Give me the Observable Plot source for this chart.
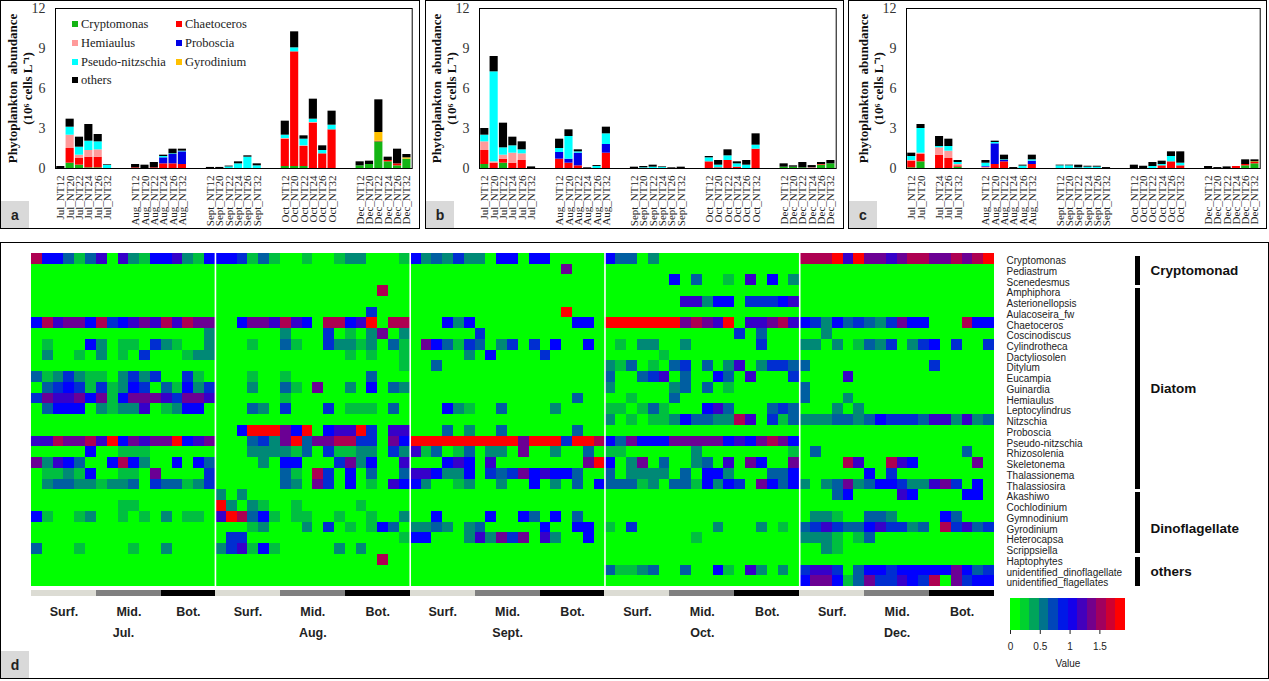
<!DOCTYPE html>
<html><head><meta charset="utf-8">
<script src="https://cdn.jsdelivr.net/npm/d3@7"></script>
<script src="https://cdn.jsdelivr.net/npm/@observablehq/plot@0.6"></script>
<style>
html,body{margin:0;padding:0;background:#fff;width:1269px;height:681px;overflow:hidden}
#stage{position:relative;width:1269px;height:681px}
.abs{position:absolute}
.panel{position:absolute;border:1.5px solid #000;box-sizing:border-box}
.tag{position:absolute;background:#d9d9d9;font:bold 14px "Liberation Sans";color:#222;display:flex;align-items:center;justify-content:center;width:28px;height:27px}
.lg{position:absolute;font:12.5px "Liberation Serif";color:#222;white-space:nowrap;line-height:14px}
.lg i{display:inline-block;width:6px;height:6px;margin-right:3px;vertical-align:1px}
svg{background:transparent!important}
</style></head><body><div id="stage"></div>
<script>
// ---- stacked bars ----
const species = ["Cryptomonas","Chaetoceros","Hemiaulus","Proboscia","Pseudo-nitzschia","Gyrodinium","others"];
const speciesColors = ["#14b414","#ff0000","#ff9a9a","#0000e6","#00ffff","#ffc000","#000000"];
const months = ["Jul","Aug","Sept","Oct","Dec"];
const stations = ["NT12","NT20","NT22","NT24","NT26","NT32"];
const yTicks = [0,3,6,9,12];

const aCryptomonas = [0,.4,.25,.05,.05,0, 0,0,0,0,0,0, 0,0,0,0,0,0, .15,.15,.15,0,0,0, .2,.3,2,.5,.2,.7];
const aChaetoceros = [0,1.1,.5,.8,.8,0, .05,0,.05,.35,.35,.3, 0,0,0,0,0,0, 2.05,8.6,1.5,3.4,1.1,2.9, 0,0,.05,.1,.15,0];
const aHemiaulus = [0,1,.25,.5,.55,0, 0,0,0,0,0,0, 0,0,0,0,0,0, .05,0,.05,.05,0,0, 0,0,0,0,0,0];
const aProboscia = [0,0,0,0,0,0, 0,0,0,.45,.7,.95, 0,0,0,0,0,0, 0,0,0,0,0,0, 0,0,0,0,0,0];
const aPseudo = [0,.6,.6,.7,.6,.23, 0,0,0,.1,.05,.05, 0,0,.12,.35,.85,.2, .25,.3,.5,.25,.25,.35, 0,0,0,0,0,0];
const aGyrodinium = [0,0,0,0,0,0, 0,0,0,0,0,0, 0,0,0,0,0,0, 0,0,0,0,0,0, 0,0,.65,0,0,.1];
const aOthers = [.15,.6,.75,1.25,.55,.05, .25,.25,.4,.1,.35,.15, .08,.08,.06,.15,.1,.15, 1.05,1.2,.25,1.5,.35,1.05, .3,.25,2.45,.25,1.1,.25];

const bCryptomonas = [.3,0,.4,0,0,0, 0,0,0,0,0,0, 0,0,0,0,0,0, 0,0,0,0,0,0, .1,.1,.05,0,.25,.35];
const bChaetoceros = [1.05,.4,.3,.4,.6,0, .7,.4,.2,0,0,1.15, 0,0,0,0,0,0, .5,.05,.6,.1,0,1.45, 0,0,0,0,.05,0];
const bHemiaulus = [.65,.1,.3,.75,.5,0, 0,0,0,0,0,0, 0,0,0,0,0,0, 0,0,0,0,0,0, 0,0,0,.05,0,0];
const bProboscia = [0,0,0,0,0,0, .5,.3,.95,0,0,.65, 0,0,0,0,0,0, 0,0,0,0,0,0, 0,0,0,0,0,0];
const bPseudo = [.5,6.75,.55,.55,.3,0, .3,1.7,.1,0,.15,.8, 0,.05,.1,.07,0,0, .3,.2,.35,.25,.25,.3, 0,0,0,0,0,0];
const bGyrodinium = [0,0,0,0,0,0, 0,0,0,0,0,0, 0,0,0,0,0,0, 0,0,0,0,0,0, 0,0,0,0,0,0];
const bOthers = [.5,1.15,1.85,.65,.6,.12, .7,.5,.15,.05,.07,.5, .1,.1,.15,.05,.05,.1, .1,.35,.45,.15,.35,.85, .25,.1,.4,.17,.15,.25];

const cCryptomonas = [.05,.5,0,0,0,.1, 0,0,0,0,0,0, 0,0,0,0,0,0, 0,0,0,0,0,0, 0,0,0,0,.2,.35];
const cChaetoceros = [.5,.55,0,1,.75,.1, 0,.3,.5,0,0,.3, 0,0,0,0,0,0, 0,0,0,.2,.5,.2, 0,0,0,.15,.1,.1];
const cHemiaulus = [.05,.1,0,.55,.55,.1, .1,0,0,0,0,0, 0,0,0,0,0,0, 0,0,0,0,0,0, 0,0,0,0,0,0];
const cProboscia = [0,0,0,0,0,0, .05,1.55,.1,0,0,.25, 0,0,0,0,0,0, 0,0,0,0,0,0, 0,0,0,0,0,0];
const cPseudo = [.3,1.85,0,.1,.35,.15, .25,.1,.05,0,.18,.1, .2,.2,.05,.1,.1,0, 0,0,.15,.1,.4,.2, 0,0,0,0,0,0];
const cGyrodinium = [0,0,0,0,0,0, 0,0,0,0,0,0, 0,0,0,0,0,0, 0,0,0,0,0,0, 0,0,0,0,0,.05];
const cOthers = [.25,.3,0,.75,.55,.15, .2,.1,.35,.07,.07,.35, .05,.05,.2,.07,.07,.07, .25,.17,.3,.25,.35,.85, .15,.07,.12,0,.35,.15];

// ---- heatmap: one digit per sample, Jul has 17 samples, the other months 18; digit indexes heatLevels ----
const heatLevels = [0,.24,.44,.6,.78,.95,1.15,1.35,1.6,1.9];
const J0 = "00000000000000000", M0 = "000000000000000000";
const hCryptomonas = ["85531360621556215","554131001001220001","523242205505500000","533020000000000000","888969776788778789"];
const hPediastrum = [J0,M0,"000000000000007000",M0,M0];
const hScenedesmus = [J0,M0,M0,"000000503001060502",M0];
const hAmphiphora = [J0,"000000000000000800",M0,M0,M0];
const hAsterionellopsis = [J0,M0,M0,"000000066255044456",M0];
const hAulacoseira = [J0,"000000000000004000","000000000000009000",M0,M0];
const hChaetoceros = ["58677584567686877","005776865088569088","000525000000000550","999999978769066786","542534324755000855"];
const hCoscinodiscus = ["00000000000000002","000000200040102702","000000400000000000","000000000000403000","002000000000000000"];
const hCylindrotheca = ["01000520110421002","000100310042212031","075314302404050050","010220020000004000","220201324024504004"];
const hDactyliosolen = ["02001020104000122","000000000000101001","000002050000400000","000001000000000000",M0];
const hDitylum = [J0,"000000000000000001","003000000000000000","213010340302602443","300000000000400000"];
const hEucampia = ["31242110242400410","000100100000003000",M0,"300346030053060004","000060000000000000"];
const hGuinardia = ["03454141254031524","000200310700205032",M0,"200000230301000000","300000000000000000"];
const hHemiaulus = ["47667571577764776","000000100000000000","000000000000000300","001000300000000000","300020000000000000"];
const hLeptocylindrus = ["03555021226012550","000320400040111030","000521003000020000","110131000563000343","000202000000000000"];
const hNitzschia = [J0,M0,M0,"201011253322860413","222332354443662623"];
const hProboscia = [J0,"005999759056694066","000302003000000300",M0,M0];
const hPseudoNitzschia = ["66877869576779567","000342793778844075","999999999979994998","537555777775657875",M0];
const hRhizosolenia = ["00000500111000000","000222213041122042","613013022070020030","110000002000000001","030000000000000300"];
const hSkeletonema = ["72653005852005053","000020550004725006","000565060000000079","502703002306075007","000086008650000070"];
const hThalassionema = ["01121500110700004","000000310840503003","665225043475655300","302222030552000335","000000504000000000"];
const hThalassiosira = ["02332212230433124","000000320740501065","520012002005020305","333120331525407535","202372355422674050"];
const hAkashiwo = [J0,"202000000000000000",M0,M0,"000350000650000550"];
const hCochlodinium = ["00000000110000000","920210010000010000",M0,M0,M0];
const hGymnodinium = ["51001200101020110","698351011001001002","005000050053050300",M0,"022100332000053000"];
const hGyrodinium = [J0,"000120002040101530","223202300000500550","104000000020002010","346433564423084634"];
const hHeterocapsa = [J0,"044000000000000001","550002627470620050","000000001000000000","222101300000000000"];
const hScrippsiella = ["30001000010020000","246151000002020000",M0,M0,"002100000000000000"];
const hHaptophytes = [J0,"000000000000000800",M0,M0,M0];
const hUnidDino = [J0,M0,M0,"311230030051062020","466403554555557534"];
const hUnidFlag = [J0,M0,M0,M0,"577513744654807455"];

const heatRows = [
 ["Cryptomonas",hCryptomonas],["Pediastrum",hPediastrum],["Scenedesmus",hScenedesmus],["Amphiphora",hAmphiphora],
 ["Asterionellopsis",hAsterionellopsis],["Aulacoseira_fw",hAulacoseira],["Chaetoceros",hChaetoceros],["Coscinodiscus",hCoscinodiscus],
 ["Cylindrotheca",hCylindrotheca],["Dactyliosolen",hDactyliosolen],["Ditylum",hDitylum],["Eucampia",hEucampia],["Guinardia",hGuinardia],
 ["Hemiaulus",hHemiaulus],["Leptocylindrus",hLeptocylindrus],["Nitzschia",hNitzschia],["Proboscia",hProboscia],["Pseudo-nitzschia",hPseudoNitzschia],
 ["Rhizosolenia",hRhizosolenia],["Skeletonema",hSkeletonema],["Thalassionema",hThalassionema],["Thalassiosira",hThalassiosira],
 ["Akashiwo",hAkashiwo],["Cochlodinium",hCochlodinium],["Gymnodinium",hGymnodinium],["Gyrodinium",hGyrodinium],["Heterocapsa",hHeterocapsa],
 ["Scrippsiella",hScrippsiella],["Haptophytes",hHaptophytes],["unidentified_dinoflagellate",hUnidDino],["unidentified_flagellates",hUnidFlag]];
const rowNames = heatRows.map(r=>r[0]);
const lastRow = rowNames[rowNames.length-1];
const monthLabels = ["Jul.","Aug.","Sept.","Oct.","Dec."];
const monthCounts = [17,18,18,18,18];
const depthLabels = ["Surf.","Mid.","Bot."];
const depthColors = ["#dcdcd4","#808080","#000000"];
const groups = [
 {name:"Cryptomonad",first:"Cryptomonas",last:"Scenedesmus",mid:"Pediastrum"},
 {name:"Diatom",first:"Amphiphora",last:"Thalassiosira",mid:"Guinardia"},
 {name:"Dinoflagellate",first:"Akashiwo",last:"Scrippsiella",mid:"Gyrodinium"},
 {name:"others",first:"Haptophytes",last:"unidentified_flagellates",mid:"unidentified_dinoflagellate"}];
const legendLevels = [0,.17,.34,.52,.69,.86,1.03,1.2,1.38,1.55,1.72,1.9];
const legendMax = 1.93;

// ---- shared ----
const stage = document.getElementById("stage");
function box(cls,css,html){const d=document.createElement("div");d.className=cls;d.style.cssText=css;if(html)d.innerHTML=html;stage.appendChild(d);return d;}
function place(svg,left,top){svg.style.position="absolute";svg.style.left=left+"px";svg.style.top=top+"px";stage.appendChild(svg);}
const fullDomain = (skip=[])=>months.flatMap((m,i)=>[
  ...stations.map(s=>skip.includes(m+"_"+s)?"gap"+m+s:m+"_"+s),
  ...(i<months.length-1?["gap"+i+"a","gap"+i+"b"]:[])]);
const colorScale = {type:"linear",domain:[0,.95,1.9],range:["#00ff00","#0000ff","#ff0000"],interpolate:"rgb",clamp:true};

box("panel","left:0;top:0;width:420px;height:229px");
box("panel","left:425px;top:0;width:419px;height:229px");
box("panel","left:848px;top:0;width:419px;height:229px");
box("panel","left:0;top:242px;width:1269px;height:437px");
box("tag","left:1px;top:201px","a");
box("tag","left:426px;top:201px","b");
box("tag","left:849px;top:201px","c");
box("tag","left:1px;top:651px","d");

function barPanel(series,left,width,mLeft,mRight,skip){
  const rows=[];
  species.forEach((sp,si)=>{
    let k=0;
    months.forEach(m=>stations.forEach(s=>{rows.push({key:m+"_"+s,species:sp,value:series[si][k++]});}));
  });
  const data=rows.filter(d=>d.value>0);
  const svg=Plot.plot({
    width,height:228,marginLeft:mLeft,marginRight:mRight,marginTop:8,marginBottom:60,
    style:{fontFamily:"Liberation Serif",background:"transparent"},
    x:{domain:fullDomain(skip),padding:.13,round:false,axis:null},
    y:{domain:[0,12],axis:null},
    color:{domain:species,range:speciesColors},
    marks:[
      Plot.ruleY([0],{stroke:"#c8c8c8"}),
      Plot.barY(data,{x:"key",y:"value",fill:"species",order:species}),
      Plot.frame({stroke:"#000"}),
      Plot.axisY({ticks:yTicks,tickSize:0,tickPadding:10,fontSize:14,label:null,color:"#333"}),
      Plot.axisX({tickRotate:-90,tickSize:0,tickPadding:7,fontSize:11,label:null,color:"#222",tickFormat:d=>String(d).startsWith("gap")?"":d}),
      Plot.text(["Phytoplankton\u00a0\u00a0abundance\n(10⁶ cells L⁻¹)"],{frameAnchor:"left",textAnchor:"middle",dx:-36,rotate:-90,fontWeight:"bold",fontSize:13,lineHeight:1.15,fill:"#111"})
    ]});
  place(svg,left,0);
}
barPanel([aCryptomonas,aChaetoceros,aHemiaulus,aProboscia,aPseudo,aGyrodinium,aOthers],0,420,55,8.3,[]);
barPanel([bCryptomonas,bChaetoceros,bHemiaulus,bProboscia,bPseudo,bGyrodinium,bOthers],425,419,54,8.3,[]);
barPanel([cCryptomonas,cChaetoceros,cHemiaulus,cProboscia,cPseudo,cGyrodinium,cOthers],847,420,59,7.3,["Jul_NT22"]);

// legend of panel a
[[0,72,17],[1,176,17],[2,72,36],[3,176,36],[4,72,55],[5,176,55],[6,72,73]].forEach(([i,x,y])=>{
  box("lg",`left:${x}px;top:${y}px`,`<i style="background:${speciesColors[i]}"></i>${species[i]}`);
});

// ---- heatmap ----
const cells=[];let offset=0;const starts=[];
monthCounts.forEach((n,mi)=>{
  starts.push(offset);
  heatRows.forEach(([name,arr])=>{
    [...arr[mi]].forEach((c,i)=>cells.push({row:name,x1:offset+i,x2:offset+i+1,value:heatLevels[+c]}));
  });
  offset+=n;
});
const total=offset;
const strips=[],depthText=[],monthText=[];
monthCounts.forEach((n,mi)=>{
  const s=starts[mi];
  const parts=[[s,s+6],[s+6,s+12],[s+12,s+n]];
  parts.forEach(([a,b],di)=>{
    for(let i=a;i<b;i++) strips.push({x1:i,x2:i+1,depth:di});
    depthText.push({x:(a+b)/2,label:depthLabels[di]});
  });
  monthText.push({x:s+n/2,label:monthLabels[mi]});
});
const lastOfGroup=new Set(groups.map(g=>g.last));
const heat=Plot.plot({
  width:1269,height:436,marginLeft:31,marginRight:275,marginTop:11,marginBottom:92,
  style:{fontFamily:"Liberation Sans",background:"transparent"},
  x:{domain:[0,total],axis:null},
  y:{domain:rowNames,padding:0,round:false,axis:null},
  color:colorScale,
  marks:[
    Plot.barX(cells,{x1:"x1",x2:"x2",y:"row",fill:"value",shapeRendering:"crispEdges"}),
    Plot.ruleX(starts.slice(1),{stroke:"#fff",strokeWidth:1.6}),
    ...depthLabels.map((_,di)=>Plot.barX(strips.filter(d=>d.depth===di),{x1:"x1",x2:"x2",y:()=>lastRow,dy:9.5,insetTop:5.2,fill:depthColors[di],shapeRendering:"crispEdges"})),
    Plot.text(depthText,{x:"x",y:()=>lastRow,dy:30.5,text:"label",fontWeight:"bold",fontSize:12.5,fill:"#222"}),
    Plot.text(monthText,{x:"x",y:()=>lastRow,dy:51.5,text:"label",fontWeight:"bold",fontSize:12.5,fill:"#222"}),
    Plot.axisY({anchor:"right",tickSize:0,tickPadding:12,fontSize:10,dy:2,label:null,color:"#222"}),
    Plot.ruleX(rowNames.filter(r=>!lastOfGroup.has(r)),{x:()=>total,y1:d=>d,y2:d=>d,dx:143,dy:3,stroke:"#000",strokeWidth:5,shapeRendering:"crispEdges"}),
    Plot.ruleX(rowNames.filter(r=>lastOfGroup.has(r)),{x:()=>total,y1:d=>d,y2:d=>d,dx:143,dy:3,insetBottom:3.5,stroke:"#000",strokeWidth:5,shapeRendering:"crispEdges"}),
    Plot.text(groups,{x:()=>total,y:"mid",dx:156,dy:1,text:"name",textAnchor:"start",fontWeight:"bold",fontSize:13.5,fill:"#111"})
  ]});
place(heat,0,242);

// ---- colour key ----
const step=legendMax/legendLevels.length;
const key=Plot.plot({
  width:170,height:85,marginLeft:20,marginRight:35,marginTop:8,marginBottom:45,
  style:{fontFamily:"Liberation Sans",background:"transparent"},
  x:{domain:[0,legendMax],axis:null},
  y:{axis:null},
  color:colorScale,
  marks:[
    Plot.barX(legendLevels,{x1:(d,i)=>i*step,x2:(d,i)=>(i+1)*step,fill:d=>d,shapeRendering:"crispEdges"}),
    Plot.axisX({anchor:"bottom",ticks:[0,.5,1,1.5],tickSize:4,tickPadding:8,fontSize:10,label:"Value",labelAnchor:"center",labelOffset:36,labelArrow:"none",color:"#222",tickFormat:d=>String(d)})
  ]});
place(key,990,590);
</script></body></html>
